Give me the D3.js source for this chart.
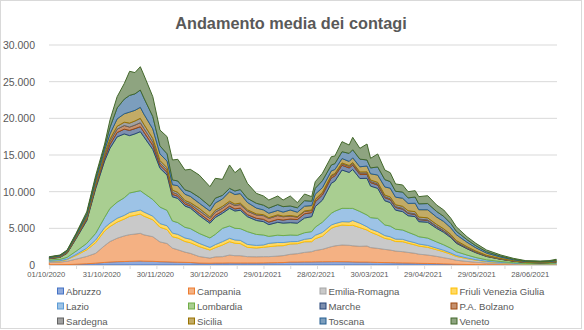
<!DOCTYPE html>
<html><head><meta charset="utf-8">
<script src="https://cdn.jsdelivr.net/npm/d3@7"></script>
<style>body{margin:0;background:#fff} svg{display:block}</style>
</head><body>
<svg id="chart" width="584" height="330"></svg>
<script>
const dates = ["2020-10-01","2020-10-07","2020-10-11","2020-10-16","2020-10-22","2020-10-27","2020-11-01","2020-11-04","2020-11-08","2020-11-12",
"2020-11-15","2020-11-18","2020-11-21","2020-11-23","2020-11-28","2020-12-02","2020-12-06","2020-12-09","2020-12-12","2020-12-16",
"2020-12-19","2020-12-24","2020-12-30","2021-01-02","2021-01-06","2021-01-10","2021-01-13","2021-01-16","2021-01-20","2021-01-25",
"2021-01-29","2021-02-01","2021-02-06","2021-02-09","2021-02-13","2021-02-17","2021-02-21","2021-02-25","2021-02-27","2021-03-03",
"2021-03-08","2021-03-10","2021-03-14","2021-03-18","2021-03-20","2021-03-24","2021-03-28","2021-03-30","2021-04-03","2021-04-07",
"2021-04-10","2021-04-13","2021-04-17","2021-04-20","2021-04-24","2021-04-26","2021-05-01","2021-05-06","2021-05-10","2021-05-14",
"2021-05-17","2021-05-23","2021-05-28","2021-06-03","2021-06-11","2021-06-18","2021-06-25","2021-07-03","2021-07-08","2021-07-12"];

const regions = ["Abruzzo","Campania","Emilia-Romagna","Friuli Venezia Giulia","Lazio","Lombardia","Marche","P.A. Bolzano","Sardegna","Sicilia","Toscana","Veneto"];

const abruzzo = [40,45,60,100,170,250,350,400,450,470,500,520,545,520,500,450,430,400,380,360,340,260,240,260,260,280,270,270,270,270,280,300,320,330,400,400,420,420,430,440,450,460,450,440,420,400,400,380,350,330,320,300,280,270,250,230,210,180,150,120,100,70,50,35,25,15,10,8,8,10];
const campania = [320,360,450,700,1000,1350,2300,2800,3200,3500,3640,3700,3775,3600,3360,2700,2500,1900,1700,1400,1250,900,700,850,880,1080,1000,1000,870,850,860,840,900,950,1060,1150,1300,1400,1550,1700,2050,2150,2280,2250,2200,2150,2190,2000,1920,1800,1720,1600,1540,1450,1340,1250,1150,1000,850,700,550,420,330,240,170,120,80,70,70,85];
const emiliaRomagna = [110,140,230,500,900,1450,2000,2050,2200,2300,2500,2550,2630,2550,2300,2000,1900,1550,1600,1450,1450,1350,1100,1250,1590,1820,1700,1650,1270,1200,1270,1360,1400,1350,1400,1350,1450,1360,1600,1800,2500,2600,2720,2700,2800,2550,2180,2100,1820,1500,1450,1300,1360,1250,1140,1100,1050,900,800,650,520,380,280,190,120,80,50,45,50,65];
const friuli = [30,35,60,130,230,370,450,470,520,500,540,560,550,560,500,500,520,500,500,480,480,440,350,420,450,460,440,440,400,350,320,450,450,430,320,300,330,460,480,500,450,430,460,480,650,600,450,430,460,380,360,330,320,300,300,280,260,220,200,160,130,90,60,40,25,15,10,10,12,15];
const lazio = [170,190,250,450,650,900,1400,2000,2200,2400,2640,2650,2630,2550,2270,2250,2100,1650,1600,1450,1450,1350,1300,1400,1820,1680,1600,1600,1740,1500,1360,950,1000,950,910,850,900,910,1100,1400,1600,1700,1820,1850,1650,1600,1600,1550,1810,1450,1460,1350,1270,1200,1060,1000,1000,850,750,650,520,400,300,200,130,90,60,60,70,95];
const lombardia = [190,260,550,1700,3100,6100,7700,8200,8900,8700,7820,7900,8050,7700,6820,5300,4800,3300,3300,2900,2800,2450,2000,2300,2050,2410,2350,2500,2040,1900,1820,1600,1750,1700,1680,1650,2000,2040,2800,3000,4090,4100,5220,4900,5300,4500,5000,4300,4090,3300,3200,2600,2500,2250,2500,2050,2150,1850,1700,1450,1150,850,650,450,300,200,130,110,115,140];
const marche = [30,40,60,100,170,250,400,500,600,650,720,720,680,650,550,400,380,330,300,280,280,300,270,300,280,300,290,300,280,300,320,350,400,420,500,500,580,560,650,700,750,700,650,620,600,550,530,480,450,420,400,370,350,320,300,280,270,230,200,170,140,100,70,50,30,20,12,10,10,12];
const bolzano = [20,25,40,80,130,200,300,400,450,500,450,480,540,500,450,300,300,270,250,230,230,350,370,420,420,450,450,480,480,450,500,500,520,450,400,330,320,280,280,270,250,230,200,200,200,180,170,150,150,130,120,110,100,90,80,70,60,50,40,35,30,25,20,15,10,8,5,5,5,6];
const sardegna = [55,65,70,100,150,200,300,350,400,450,540,560,600,550,500,350,330,300,280,250,230,330,230,260,250,220,210,200,180,150,130,110,100,80,80,70,70,70,70,80,100,100,120,130,150,160,180,200,220,230,250,260,280,270,300,280,280,260,240,220,200,170,140,100,70,45,30,30,35,50];
const sicilia = [55,70,90,150,250,400,450,700,1000,1150,1500,1450,1500,1400,1300,900,900,750,900,850,850,700,800,1000,1000,1300,1300,1300,1000,800,650,600,600,550,750,600,650,600,700,650,600,550,600,550,650,700,800,850,1000,1100,1200,1030,1100,1000,1150,1000,1100,1000,1000,900,800,600,450,300,190,120,80,75,80,110];
const toscana = [60,80,100,160,250,400,450,900,1500,2000,2280,2250,2360,2200,1700,1100,1000,650,650,600,650,800,650,650,500,450,480,550,560,650,650,700,800,750,550,600,750,600,800,950,800,800,930,1100,1100,1050,820,800,1100,1000,900,800,850,750,850,800,850,760,700,600,480,350,270,190,130,85,55,50,55,75];
const veneto = [50,50,85,150,270,350,400,1000,1530,2120,3280,2900,3180,3120,2700,2150,2340,2720,2950,2700,3040,3040,2670,2710,2180,3190,2500,2890,2050,1350,1250,1100,1170,900,1360,700,910,620,900,1010,1130,1040,1370,1140,1690,1470,2180,1310,1770,1310,1210,1000,960,850,860,980,1070,880,870,705,600,405,330,235,160,112,68,72,80,117];

const yTicks = [0,5000,10000,15000,20000,25000,30000];
const xTickLabels = ["01/10/2020","31/10/2020","30/11/2020","30/12/2020","29/01/2021","28/02/2021","30/03/2021","29/04/2021","29/05/2021","28/06/2021"];
const colors = ["#4472C4","#ED7D31","#A5A5A5","#FFC000","#5B9BD5","#70AD47","#264478","#9E480E","#636363","#997300","#255E91","#43682B"];

const seriesValues = [abruzzo,campania,emiliaRomagna,friuli,lazio,lombardia,marche,bolzano,sardegna,sicilia,toscana,veneto];
const parse = d3.timeParse("%Y-%m-%d");
const parseLabel = d3.timeParse("%d/%m/%Y");
const rows = dates.map((d,i)=>{const o={date:parse(d)}; regions.forEach((r,k)=>o[r]=seriesValues[k][i]); return o;});
const stacked = d3.stack().keys(regions)(rows);

const svg = d3.select("#chart");
svg.append("rect").attr("x",0.5).attr("y",0.5).attr("width",581).attr("height",328)
  .attr("fill","#fff").attr("stroke","#D9D9D9");

const x = d3.scaleTime().domain([parse("2020-10-01"), parse("2021-07-12")]).range([49.3, 556.2]);
const y = d3.scaleLinear().domain([0,30000]).range([265,45]);
const fillOf = c => d3.interpolateRgb(c, "#ffffff")(0.4);

// gridlines
svg.append("g").selectAll("line").data(yTicks.filter(v=>v>0)).join("line")
  .attr("x1",49).attr("x2",557).attr("y1",d=>y(d)).attr("y2",d=>y(d))
  .attr("stroke","#D9D9D9").attr("stroke-width",1);

// areas
const area = d3.area().x(d=>x(d.data.date)).y0(d=>y(d[0])).y1(d=>y(d[1]));
svg.append("g").selectAll("path").data(stacked).join("path")
  .attr("d",area)
  .attr("fill",(d,i)=>fillOf(colors[i]))
  .attr("stroke",(d,i)=>colors[i])
  .attr("stroke-width",1)
  .attr("stroke-linejoin","round");

// x axis (tick marks every 15 days)
const tickDates = d3.timeDay.range(parse("2020-10-01"), parse("2021-07-13"), 1).filter((d,i)=>i%15===0);
const xAxis = d3.axisBottom(x).tickValues(tickDates).tickFormat("").tickSize(4).tickSizeOuter(0);
const gx = svg.append("g").attr("transform","translate(0,265)").call(xAxis);
gx.select(".domain").attr("stroke","#D9D9D9").attr("d","M49,0.5H557");
gx.selectAll(".tick line").attr("stroke","#D9D9D9");

// x labels
svg.append("g").selectAll("text").data(xTickLabels).join("text")
  .attr("x",(d,i)=>x(parseLabel(d)) - (i===0 ? 3 : 1)).attr("y",277)
  .attr("text-anchor","middle")
  .style("font-family","Liberation Sans, Arial, sans-serif").style("font-size","7.6px").attr("fill","#595959")
  .text(d=>d);

// y axis labels
const itFmt = d3.formatLocale({decimal:",",thousands:".",grouping:[3],currency:["€",""]}).format(",d");
const yAxis = d3.axisLeft(y).tickValues(yTicks).tickFormat(itFmt).tickSize(0).tickPadding(14);
const gy = svg.append("g").attr("transform","translate(49,0)").call(yAxis);
gy.select(".domain").remove();
gy.selectAll("text").style("font-family","Liberation Sans, Arial, sans-serif").style("font-size","10.5px").attr("fill","#595959");

// title
svg.append("text").attr("x",291).attr("y",29).attr("text-anchor","middle")
  .style("font-family","Liberation Sans, Arial, sans-serif").style("font-size","16.3px").style("font-weight","bold")
  .attr("fill","#595959").text("Andamento media dei contagi");

// legend
const colX = [57,188,319.5,450.5];
const rowY = [291.5,306.5,321.5];
const lg = svg.append("g").selectAll("g").data(regions).join("g")
  .attr("transform",(d,i)=>`translate(${colX[i%4]},${rowY[Math.floor(i/4)]})`);
lg.append("rect").attr("x",0.5).attr("y",-3.5).attr("width",6).attr("height",6)
  .attr("fill",(d,i)=>fillOf(colors[i])).attr("stroke",(d,i)=>colors[i]).attr("stroke-width",1);
lg.append("text").attr("x",9).attr("y",3.4)
  .style("font-family","Liberation Sans, Arial, sans-serif").style("font-size","9.6px").attr("fill","#595959")
  .text(d=>d);
</script>
</body></html>
